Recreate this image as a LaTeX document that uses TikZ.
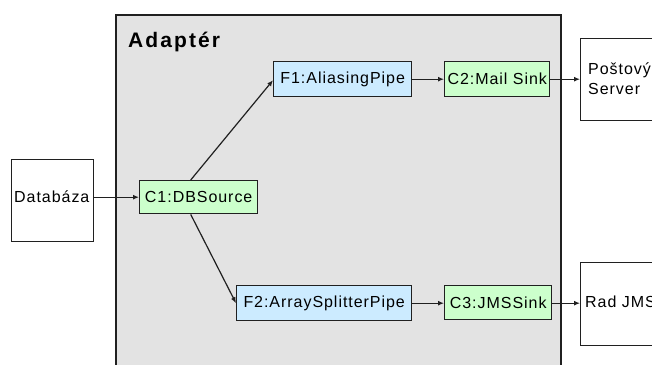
\documentclass[tikz,border=0pt]{standalone}
\usepackage{fontspec}
\usetikzlibrary{arrows.meta,positioning}
\setmainfont{Liberation Sans}
\newfontfamily\boxfont[LetterSpace=6]{Liberation Sans}
\newfontfamily\titlefont[LetterSpace=10]{Liberation Sans}

\definecolor{edgec}{HTML}{202020}
\definecolor{adapterfill}{HTML}{E3E3E3}
\definecolor{compfill}{HTML}{CCFFCC}
\definecolor{pipefill}{HTML}{CCEBFF}

\tikzset{
  box/.style={draw=edgec, line width=1.4pt, inner sep=0pt, anchor=north west,
              font=\boxfont\fontsize{16}{18}\selectfont},
  comp/.style={box, fill=compfill},
  pipe/.style={box, fill=pipefill},
  ext/.style={box, fill=white},
  lbl/.style={inner sep=0pt, anchor=west, font=\boxfont\fontsize{16}{20}\selectfont, align=left},
  flow/.style={draw=edgec, line width=1.2pt, -{Latex[length=6pt,width=5pt]}},
}

\begin{document}
\begin{tikzpicture}[x=1pt, y=-1pt]
  \useasboundingbox (0,0) rectangle (652,364);
  \fill[white] (0,0) rectangle (652,364);
  \clip (0,0) rectangle (652,364);

  % adapter container
  \node[box, fill=adapterfill, line width=1.8pt, minimum width=445pt, minimum height=380pt]
    (adapter) at (115,14) {};
  \node[inner sep=0pt, anchor=base west, font=\titlefont\bfseries\fontsize{21}{24}\selectfont]
    (title) at (128,47) {Adaptér};

  % external systems
  \node[ext, minimum width=82pt, minimum height=82pt] (db) at (11,159) {};
  \node[lbl] (dbtext) at (14,197) {Databáza};
  \node[ext, minimum width=130pt, minimum height=82pt] (mail) at (580,38) {};
  \node[lbl] (mailtext) at (588,79) {Poštový\\Server};
  \node[ext, minimum width=130pt, minimum height=83pt] (jms) at (580,262) {};
  \node[lbl] (jmstext) at (585,302) {Rad JMS};

  % components and pipes
  \node[comp, minimum width=118pt, minimum height=33pt] (c1) at (139,180) {C1:DBSource};
  \node[pipe, minimum width=138pt, minimum height=35pt] (f1) at (273,61) {F1:AliasingPipe};
  \node[comp, minimum width=105pt, minimum height=35pt] (c2) at (444,61) {C2:Mail Sink};
  \node[pipe, minimum width=175pt, minimum height=35pt] (f2) at (236,285) {F2:ArraySplitterPipe};
  \node[comp, minimum width=107pt, minimum height=34pt] (c3) at (444,285) {C3:JMSSink};

  % message flow
  \draw[flow] (db.east |- c1.west) -- (c1.west);
  \draw[flow] ([xshift=-8pt]c1.north) -- ([yshift=-1pt]f1.west);
  \draw[flow] ([xshift=-8pt]c1.south) -- (f2.west);
  \draw[flow] (f1.east) -- (c2.west);
  \draw[flow] (c2.east) -- (mail.west |- c2.east);
  \draw[flow] (f2.east) -- (c3.west |- f2.east);
  \draw[flow] (c3.east |- f2.east) -- (jms.west |- f2.east);
\end{tikzpicture}
\end{document}
